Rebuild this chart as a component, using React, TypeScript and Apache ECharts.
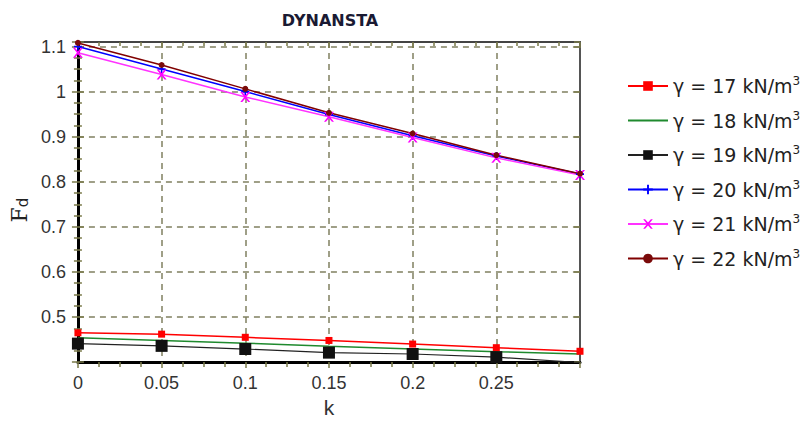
import React, { useEffect, useRef } from "react";
import * as echarts from "echarts";

const kValues = [0, 0.05, 0.1, 0.15, 0.2, 0.25, 0.3];
const g17 = [0.465, 0.462, 0.455, 0.448, 0.44, 0.432, 0.424];
const g18 = [0.454, 0.448, 0.442, 0.435, 0.429, 0.423, 0.418];
const g19 = [0.441, 0.436, 0.429, 0.421, 0.418, 0.411, 0.399];
const g20 = [1.1, 1.05, 1.0, 0.949, 0.902, 0.857, 0.817];
const g21 = [1.086, 1.038, 0.988, 0.944, 0.898, 0.853, 0.815];
const g22 = [1.108, 1.059, 1.006, 0.953, 0.907, 0.859, 0.818];
const seriesNames = [
  "γ = 17 kN/m³",
  "γ = 18 kN/m³",
  "γ = 19 kN/m³",
  "γ = 20 kN/m³",
  "γ = 21 kN/m³",
  "γ = 22 kN/m³",
];
const xMin = 0;
const xMax = 0.3;
const xStep = 0.05;
const yMin = 0.4;
const yMax = 1.11;
const yStep = 0.1;

const PLUS = "path://M4,0 H6 V4 H10 V6 H6 V10 H4 V6 H0 V4 H4 Z";
const CROSS = "path://M0,0 L2,0 L5,3.5 L8,0 L10,0 L6,5 L10,10 L8,10 L5,6.5 L2,10 L0,10 L4,5 Z";

const pairs = (ys: number[]) => kValues.map((k, i) => [k, ys[i]]);

export default function App() {
  const ref = useRef<HTMLDivElement>(null);
  useEffect(() => {
    if (!ref.current) return;
    const chart = echarts.init(ref.current, null, { renderer: "svg" });
    const gridColor = "#808060";
    const tickColor = "#7a7a4a";
    const labelFont = {
      fontFamily: "Liberation Sans",
      fontSize: 18,
      color: "#333333",
    };
    const mk = (
      name: string,
      data: number[],
      color: string,
      symbol: string,
      size: number,
      extra: any = {}
    ) => ({
      name,
      type: "line",
      data: pairs(data),
      symbol,
      symbolSize: size,
      showSymbol: symbol !== "none",
      lineStyle: { color, width: 1.5 },
      itemStyle: { color },
      ...extra,
    });
    const option: any = {
      animation: false,
      title: {
        text: "DYNANSTA",
        left: 325,
        textAlign: "center",
        top: 7,
        textStyle: {
          fontFamily: "DejaVu Sans",
          fontWeight: "bold",
          fontSize: 16,
          color: "#1a1a33",
        },
      },
      legend: {
        orient: "vertical",
        left: 622,
        top: 70,
        itemWidth: 40,
        itemHeight: 12,
        itemGap: 14,
        data: seriesNames.map((n, i) =>
          i === 1 ? { name: n, itemStyle: { opacity: 0 } } : { name: n }
        ),
        formatter: (name: string) => name.replace("³", "{sup|3}"),
        textStyle: {
          fontFamily: "DejaVu Sans",
          fontSize: 19,
          color: "#222222",
          rich: {
            sup: {
              fontFamily: "DejaVu Sans",
              fontSize: 12,
              color: "#222222",
              verticalAlign: "top",
              padding: [0, 0, 10, 0],
            },
          },
        },
      },
      grid: { left: 70, right: 230, top: 42, bottom: 57, containLabel: false },
      xAxis: [
        {
          type: "value",
          position: "bottom",
          min: xMin,
          max: xMax,
          interval: xStep,
          name: "k",
          nameLocation: "middle",
          nameGap: 33,
          nameTextStyle: { fontFamily: "Liberation Sans", fontSize: 21, color: "#333333" },
          axisLine: { show: true, onZero: false, lineStyle: { color: "#000000", width: 3 } },
          axisTick: { show: true, inside: false, length: 6, lineStyle: { color: tickColor, width: 1.5 } },
          minorTick: { show: true, splitNumber: 4, length: 5, lineStyle: { color: tickColor, width: 1.5 } },
          axisLabel: {
            ...labelFont,
            margin: 12,
            showMaxLabel: false,
            formatter: (v: number) => (Math.abs(v - xMax) < 1e-9 ? "" : String(+v.toFixed(2))),
          },
          splitLine: { show: true, lineStyle: { color: gridColor, width: 1.5, type: [6, 5] } },
        },
        {
          type: "value",
          position: "top",
          min: xMin,
          max: xMax,
          interval: xStep,
          axisLine: { show: true, onZero: false, lineStyle: { color: "#444444", width: 2 } },
          axisTick: { show: true, inside: true, length: 6, lineStyle: { color: tickColor, width: 1.5 } },
          minorTick: { show: true, splitNumber: 4, length: 4, lineStyle: { color: tickColor, width: 1.5 } },
          axisLabel: { show: false },
          splitLine: { show: false },
        },
      ],
      yAxis: [
        {
          type: "value",
          position: "left",
          min: yMin,
          max: yMax,
          interval: yStep,
          name: "{F|F}{d|d}",
          nameLocation: "middle",
          nameGap: 32,
          nameTextStyle: {
            padding: [0, 16, 0, 0],
            rich: {
              F: { fontFamily: "DejaVu Serif", fontSize: 22, color: "#222222", lineHeight: 26, verticalAlign: "bottom" },
              d: { fontFamily: "DejaVu Sans", fontSize: 15, color: "#222222", lineHeight: 14, verticalAlign: "bottom" },
            },
          },
          axisLine: { show: true, onZero: false, lineStyle: { color: "#000000", width: 3 } },
          axisTick: { show: true, inside: false, length: 6, lineStyle: { color: tickColor, width: 1.5 } },
          minorTick: { show: true, splitNumber: 4, length: 4, lineStyle: { color: tickColor, width: 1.5 } },
          axisLabel: {
            ...labelFont,
            margin: 12,
            formatter: (v: number) => (v < 0.45 || v > 1.106 ? "" : String(+v.toFixed(2))),
          },
          splitLine: { show: true, lineStyle: { color: gridColor, width: 1.5, type: [6, 5] } },
        },
        {
          type: "value",
          position: "right",
          min: yMin,
          max: yMax,
          interval: yStep,
          axisLine: { show: true, onZero: false, lineStyle: { color: "#555555", width: 2 } },
          axisTick: { show: true, inside: true, length: 6, lineStyle: { color: tickColor, width: 1.5 } },
          minorTick: { show: false },
          axisLabel: { show: false },
          splitLine: { show: false },
        },
        {
          type: "value",
          position: "left",
          min: yMin,
          max: yMax,
          interval: yStep,
          axisLine: { show: false },
          axisTick: { show: true, inside: true, length: 6, lineStyle: { color: tickColor, width: 1.5 } },
          minorTick: { show: true, splitNumber: 4, length: 4, lineStyle: { color: tickColor, width: 1.5 } },
          axisLabel: { show: false },
          splitLine: { show: false },
        },
      ],
      series: [
        mk(seriesNames[0], g17, "#ff0000", "rect", 7),
        mk(seriesNames[1], g18, "#1f8a2e", "none", 0, { lineStyle: { color: "#1f8a2e", width: 1.5 } }),
        mk(seriesNames[2], g19, "#111111", "rect", 12, { lineStyle: { color: "#222222", width: 1.2 } }),
        mk(seriesNames[3], g20, "#0000ff", PLUS, 8),
        mk(seriesNames[4], g21, "#ff33ff", CROSS, 10, { itemStyle: { color: "#ff00ff" } }),
        mk(seriesNames[5], g22, "#800000", "circle", 6, { itemStyle: { color: "#7a0a0a" } }),
      ],
    };
    chart.setOption(option);
    return () => chart.dispose();
  }, []);
  return (
    <div
      ref={ref}
      style={{ position: "absolute", left: 0, top: 0, width: 810, height: 423 }}
    />
  );
}
